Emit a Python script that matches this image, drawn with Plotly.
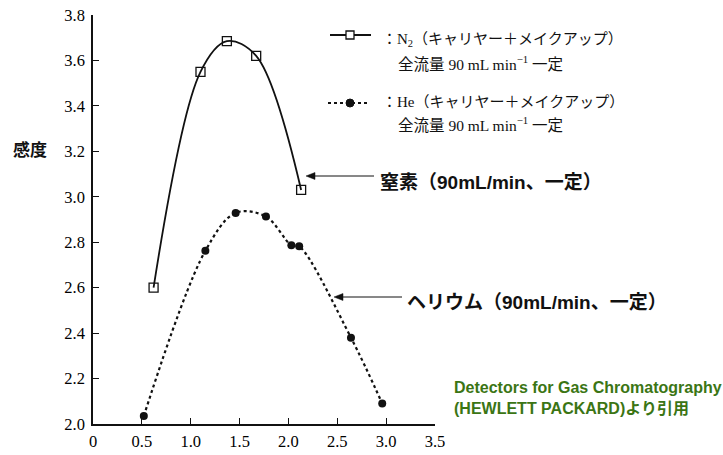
import plotly.graph_objects as go

# --- data ---
n2_x = [0.62, 1.10, 1.37, 1.67, 2.13]
n2_y = [2.60, 3.55, 3.685, 3.62, 3.03]

he_x = [0.52, 1.15, 1.46, 1.77, 2.03, 2.11, 2.64, 2.96]
he_y = [2.035, 2.762, 2.929, 2.913, 2.787, 2.782, 2.38, 2.09]

x_ticks = [0, 0.5, 1.0, 1.5, 2.0, 2.5, 3.0, 3.5]
x_ticktext = ["0", "0.5", "1.0", "1.5", "2.0", "2.5", "3.0", "3.5"]
y_ticks = [2.0, 2.2, 2.4, 2.6, 2.8, 3.0, 3.2, 3.4, 3.6, 3.8]
y_ticktext = ["2.0", "2.2", "2.4", "2.6", "2.8", "3.0", "3.2", "3.4", "3.6", "3.8"]

legend_n2 = ["：N<sub>2</sub>（キャリヤー＋メイクアップ）", "全流量 90 mL min<sup>−1</sup> 一定"]
legend_he = ["：He（キャリヤー＋メイクアップ）", "全流量 90 mL min<sup>−1</sup> 一定"]
label_n2 = "窒素（90mL/min、一定）"
label_he = "ヘリウム（90mL/min、一定）"
y_title = "感度"
source_text = "Detectors for Gas Chromatography<br>(HEWLETT PACKARD)より引用"

INK = "#111111"
SERIF = "Liberation Serif, Noto Sans CJK JP, serif"
SANS = "Liberation Sans, Noto Sans CJK JP, sans-serif"

W, H = 723, 455
L, R, T, B = 93, 288, 15, 31
pw, ph = W - L - R, H - T - B


def px(xp):
    return (xp - L) / pw


def py(yp):
    return (H - B - yp) / ph


fig = go.Figure()
fig.add_trace(go.Scatter(
    x=n2_x, y=n2_y, mode="lines+markers",
    line=dict(color=INK, width=1.8, shape="spline", smoothing=1.0),
    marker=dict(symbol="square-open", size=9, color=INK, line=dict(width=1.3)),
    cliponaxis=False, showlegend=False,
))
fig.add_trace(go.Scatter(
    x=he_x, y=he_y, mode="lines+markers",
    line=dict(color=INK, width=2.2, dash="dot", shape="spline", smoothing=1.0),
    marker=dict(symbol="circle", size=8, color=INK),
    cliponaxis=False, showlegend=False,
))

shapes = []
# legend samples
shapes.append(dict(type="line", xref="paper", yref="paper", x0=px(330), x1=px(371), y0=py(35), y1=py(35),
                   line=dict(color=INK, width=1.8)))
shapes.append(dict(type="rect", xref="paper", yref="paper", xsizemode="pixel", ysizemode="pixel",
                   xanchor=px(350), yanchor=py(35), x0=-4, x1=4, y0=-4, y1=4,
                   line=dict(color=INK, width=1.3), fillcolor="white"))
shapes.append(dict(type="line", xref="paper", yref="paper", x0=px(328), x1=px(370), y0=py(103), y1=py(103),
                   line=dict(color=INK, width=2.2, dash="dot")))
shapes.append(dict(type="circle", xref="paper", yref="paper", xsizemode="pixel", ysizemode="pixel",
                   xanchor=px(350), yanchor=py(103), x0=-4, x1=4, y0=-4, y1=4,
                   line=dict(color=INK, width=1), fillcolor=INK))


def arrow(head_x, head_y, tail_x):
    shapes.append(dict(type="line", xref="paper", yref="paper", x0=px(head_x + 5), x1=px(tail_x),
                       y0=py(head_y), y1=py(head_y), line=dict(color=INK, width=1)))
    shapes.append(dict(type="path", xref="paper", yref="paper", xsizemode="pixel", ysizemode="pixel",
                       xanchor=px(head_x), yanchor=py(head_y),
                       path="M 0,0 L 9,3.5 L 9,-3.5 Z", line=dict(color=INK, width=0.5), fillcolor=INK))


arrow(306, 176, 374)
arrow(334, 297, 402)

ann = []


def txt(text, xp, yp, size, family, color=INK, xanchor="left", bold=False):
    t = f"<b>{text}</b>" if bold else text
    ann.append(dict(text=t, xref="paper", yref="paper", x=px(xp), y=py(yp), xanchor=xanchor,
                    yanchor="middle", showarrow=False, align="left",
                    font=dict(size=size, family=family, color=color)))


txt(legend_n2[0], 380, 40, 15, SERIF)
txt(legend_n2[1], 396, 63, 15.5, SERIF)
txt(legend_he[0], 380, 102, 15, SERIF)
txt(legend_he[1], 396, 124, 15.5, SERIF)
txt(y_title, 30, 150, 17, SANS, xanchor="center", bold=True)
txt(label_n2, 378, 182, 19, SANS, bold=True)
txt(label_he, 405, 302, 19, SANS, bold=True)
txt(source_text, 452, 398, 16, SANS, color="#3b7514", bold=True)

fig.update_layout(
    width=W, height=H,
    margin=dict(l=L, r=R, t=T, b=B, autoexpand=False),
    paper_bgcolor="white", plot_bgcolor="white",
    shapes=shapes, annotations=ann,
    xaxis=dict(range=[0, 3.5], tickvals=x_ticks, ticktext=x_ticktext, showgrid=False, zeroline=False,
               showline=True, linecolor=INK, linewidth=1.5, ticks="inside", ticklen=6, tickcolor=INK,
               ticklabelstandoff=1, automargin=False,
               tickfont=dict(family=SERIF, size=16.5, color="#000")),
    yaxis=dict(range=[2.0, 3.8], tickvals=y_ticks, ticktext=y_ticktext, showgrid=False, zeroline=False,
               showline=True, linecolor=INK, linewidth=1.5, ticks="inside", ticklen=6, tickcolor=INK,
               ticklabelstandoff=3, automargin=False,
               tickfont=dict(family=SERIF, size=16.5, color="#000")),
)

fig.write_html("out.html")
